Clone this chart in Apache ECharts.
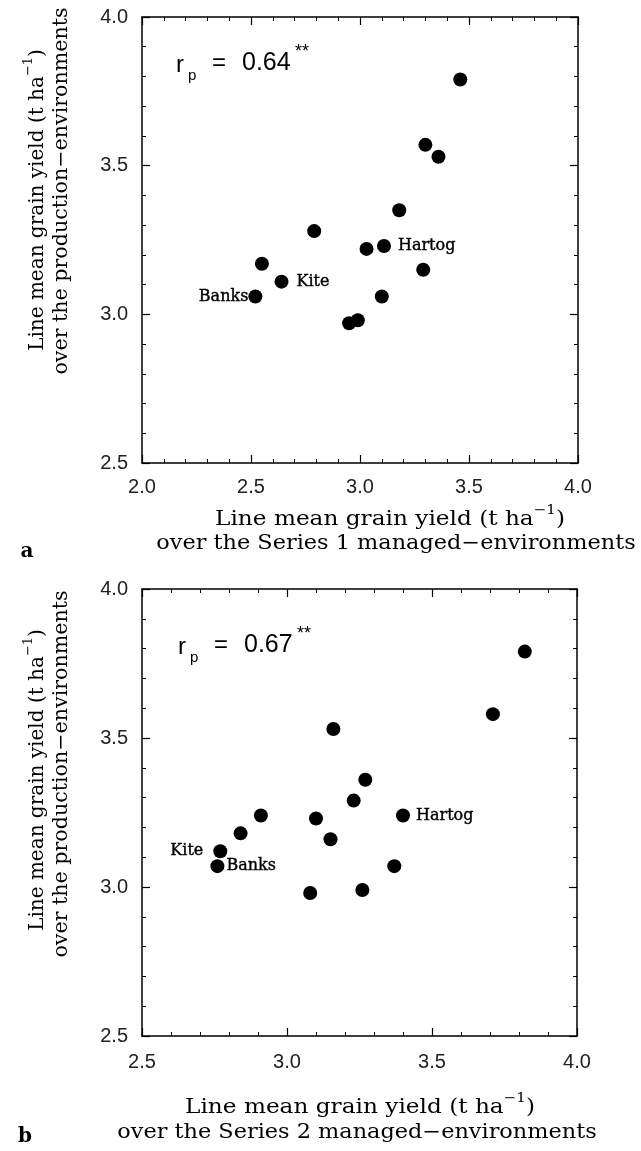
<!DOCTYPE html>
<html>
<head>
<meta charset="utf-8">
<script src="https://cdn.jsdelivr.net/npm/echarts@6/dist/echarts.min.js"></script>
<style>
  html, body { margin: 0; padding: 0; background: #fff; }
  #main { width: 641px; height: 1151px; }
</style>
</head>
<body>
<div id="main"></div>
<script>
// panel a: Series 1 managed-environments vs production-environments
const xA = [3.46, 3.30, 3.36, 3.18, 2.79, 3.03, 3.11, 2.55, 2.64, 3.29, 2.52, 3.10, 2.99, 2.95];
const yA = [3.79, 3.57, 3.53, 3.35, 3.28, 3.22, 3.23, 3.17, 3.11, 3.15, 3.06, 3.06, 2.98, 2.97];
const namesA = ['', '', '', '', '', '', 'Hartog', '', 'Kite', '', 'Banks', '', '', ''];

// panel b: Series 2 managed-environments vs production-environments
const xB = [3.82, 3.71, 3.16, 3.27, 3.23, 2.91, 3.10, 3.40, 2.84, 2.77, 3.15, 2.76, 3.37, 3.08, 3.26];
const yB = [3.79, 3.58, 3.53, 3.36, 3.29, 3.24, 3.23, 3.24, 3.18, 3.12, 3.16, 3.07, 3.07, 2.98, 2.99];
const namesB = ['', '', '', '', '', '', '', 'Hartog', '', 'Kite', '', 'Banks', '', '', ''];

const rA = '0.64';
const rB = '0.67';
const xTitleA = ['Line mean grain yield (t ha', 'over the Series 1 managed\u2212environments'];
const xTitleB = ['Line mean grain yield (t ha', 'over the Series 2 managed\u2212environments'];
const yTitle = ['Line mean grain yield (t ha', 'over the production\u2212environments'];

const myChart = echarts.init(document.getElementById('main'));

const black = '#000';
const serif = 'DejaVu Serif';
const sans = 'Liberation Sans';

function axis(gridIndex, position, min, max, labels, margin) {
  return {
    type: 'value',
    gridIndex: gridIndex,
    position: position,
    min: min,
    max: max,
    interval: 0.5,
    axisLine: { show: true, onZero: false, lineStyle: { color: black, width: 1.5 } },
    axisTick: { show: true, inside: true, length: 8, lineStyle: { color: black, width: 1.2 } },
    minorTick: { show: true, splitNumber: 5, length: 4, lineStyle: { color: black, width: 1 } },
    splitLine: { show: false },
    minorSplitLine: { show: false },
    axisLabel: {
      show: labels,
      margin: margin,
      showMinLabel: true,
      showMaxLabel: true,
      formatter: v => v.toFixed(1),
      fontFamily: sans,
      fontSize: 20,
      color: '#222'
    }
  };
}

// label placement for the named lines: [position, distance]
const placeA = { Hartog: ['right', 7], Kite: ['right', 8], Banks: ['left', 0] };
const placeB = { Hartog: ['right', 6], Kite: ['left', 10], Banks: ['right', 2] };

function points(xs, ys, names, place) {
  return xs.map((x, i) => {
    const item = { value: [x, ys[i]] };
    const p = place[names[i]];
    if (p) {
      item.label = { show: true, formatter: names[i], position: p[0], distance: p[1] };
    }
    return item;
  });
}

function scatter(idx, data) {
  return {
    type: 'scatter',
    xAxisIndex: idx,
    yAxisIndex: idx,
    symbolSize: 14,
    itemStyle: { color: black, opacity: 1 },
    label: {
      show: false, fontFamily: serif, fontSize: 16, color: black,
      textBorderColor: black, textBorderWidth: 0.4
    },
    emphasis: { disabled: true },
    data: data
  };
}

function txt(x, y, text, size, extra) {
  return {
    type: 'text', x: x, y: y, silent: true,
    style: Object.assign({ text: text, fontFamily: serif, fontSize: size, fill: black,
      align: 'center', verticalAlign: 'middle' }, extra || {})
  };
}

// two-line axis title; the first line ends with a raised "-1".
// p1 / p2 are the centres of the two lines, s1 / s2 widen the serif face
function title(p1, p2, lines, s1, s2, rotation) {
  const rich = {
    m: { fontFamily: serif, fontSize: 20, lineHeight: 32, color: black },
    s: { fontFamily: serif, fontSize: 13, lineHeight: 12, verticalAlign: 'top', color: black }
  };
  const rot = rotation || 0;
  return [
    {
      type: 'text', x: p1[0], y: p1[1], rotation: rot, scaleX: s1, silent: true,
      style: { text: '{m|' + lines[0] + '}{s|\u22121}{m|)}', rich: rich, align: 'center', verticalAlign: 'middle' }
    },
    {
      type: 'text', x: p2[0], y: p2[1], rotation: rot, scaleX: s2, silent: true,
      style: { text: lines[1], fontFamily: serif, fontSize: 20, fill: black, align: 'center', verticalAlign: 'middle' }
    }
  ];
}

function rp(x, y, r) {
  return [
    txt(x, y + 2, 'r', 24, { fontFamily: sans, align: 'left' }),
    txt(x + 12, y + 13, 'p', 15, { fontFamily: sans, align: 'left' }),
    txt(x + 36, y, '=', 24, { fontFamily: sans, align: 'left' }),
    txt(x + 66, y, r, 25, { fontFamily: sans, align: 'left' }),
    txt(x + 119, y - 11, '**', 18, { fontFamily: sans, align: 'left' })
  ];
}

const graphic = [].concat(
  rp(176, 63, rA),
  rp(178, 645, rB),
  title([390, 520], [396, 544], xTitleA, 1.16, 1.12),
  title([360, 1108], [357, 1133], xTitleB, 1.16, 1.12),
  title([38, 200], [62, 191], yTitle, 1.0, 1.03, Math.PI / 2),
  title([38, 780], [62, 774], yTitle, 1.0, 1.03, Math.PI / 2),
  [
    txt(27, 552, 'a', 20, { fontWeight: 'bold' }),
    txt(25, 1137, 'b', 20, { fontWeight: 'bold' })
  ]
);

const option = {
  animation: false,
  backgroundColor: '#fff',
  grid: [
    { left: 142, top: 17, width: 436, height: 446, containLabel: false, outerBoundsMode: 'none' },
    { left: 142, top: 589, width: 435, height: 447, containLabel: false, outerBoundsMode: 'none' }
  ],
  xAxis: [
    axis(0, 'bottom', 2.0, 4.0, true, 14),
    axis(0, 'top', 2.0, 4.0, false, 8),
    axis(1, 'bottom', 2.5, 4.0, true, 16),
    axis(1, 'top', 2.5, 4.0, false, 8)
  ],
  yAxis: [
    axis(0, 'left', 2.5, 4.0, true, 14),
    axis(0, 'right', 2.5, 4.0, false, 8),
    axis(1, 'left', 2.5, 4.0, true, 14),
    axis(1, 'right', 2.5, 4.0, false, 8)
  ],
  series: [
    scatter(0, points(xA, yA, namesA, placeA)),
    scatter(2, points(xB, yB, namesB, placeB))
  ],
  graphic: graphic
};

option && myChart.setOption(option);
</script>
</body>
</html>
